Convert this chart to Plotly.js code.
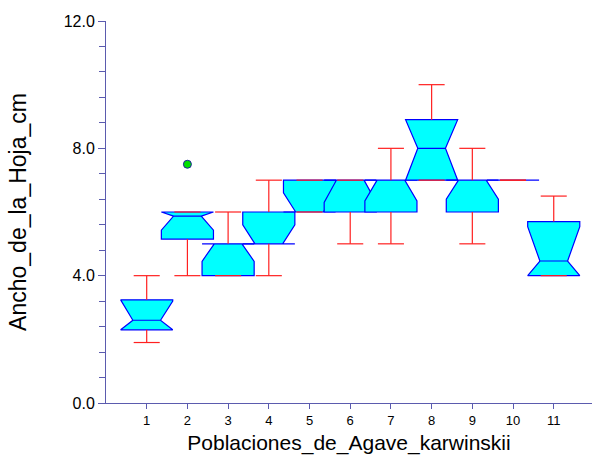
<!DOCTYPE html>
<html>
<head>
<meta charset="utf-8">
<script src="https://cdn.plot.ly/plotly-3.0.1.min.js"></script>
<style>html,body{margin:0;padding:0;background:#fff;}#chart{width:592px;height:459px;}</style>
</head>
<body>
<div id="chart"></div>
<script>
// Data (leaf width by population)
const populations = [1, 2, 3, 4, 5, 6, 7, 8, 9, 10, 11];
const lowerWhisker = [1.9, 4.0, 4.0, 4.0, 6.0, 5.0, 5.0, 7.0, 5.0, 7.0, 4.0];
const q1Values     = [2.3, 5.15, 4.0, 5.0, 6.0, 6.0, 6.0, 7.0, 6.0, 7.0, 4.0];
const medianValues = [2.6, 5.87, 5.0, 5.0, 6.0, 7.0, 7.0, 8.0, 7.0, 7.0, 4.46];
const q3Values     = [3.24, 6.0, 5.0, 6.0, 7.0, 7.0, 7.0, 8.9, 7.0, 7.0, 5.7];
const upperWhisker = [4.0, 6.0, 6.0, 7.0, 7.0, 7.0, 8.0, 10.0, 8.0, 7.0, 6.5];
const notchHalfSpan = [0.6, 0.44, 0.55, 0.6, 0.6, 0.7, 0.65, 1.0, 0.6, 0.0, 1.08];
const outlierPopulation = [2];
const outlierValues = [7.5];
const yTickValues = [0, 4, 8, 12];

// Style constants (widths in category units)
const BOX_HALF = 0.64;
const NOTCH_HALF = 0.34;
const CAP_HALF = 0.32;
const AXIS_COLOR = '#5B5BAE';
const FONT = 'Liberation Sans, Arial, sans-serif';

const traces = [];
populations.forEach((p, i) => {
  const a = q1Values[i], m = medianValues[i], b = q3Values[i], ns = notchHalfSpan[i];
  const lo = Math.max(a, m - ns), hi = Math.min(b, m + ns);
  traces.push({
    type: 'scatter', mode: 'lines', fill: 'toself',
    x: [p - NOTCH_HALF, p + NOTCH_HALF, p + BOX_HALF, p + BOX_HALF, p - BOX_HALF, p - BOX_HALF, p - NOTCH_HALF,
        p - BOX_HALF, p - BOX_HALF, p + BOX_HALF, p + BOX_HALF, p + NOTCH_HALF],
    y: [m, m, lo, a, a, lo, m, hi, b, b, hi, m],
    fillcolor: '#00FFFF',
    line: {color: '#0000FF', width: 1.2},
    hoverinfo: 'skip', showlegend: false
  });
});

// Whiskers drawn on top
const wx = [], wy = [];
populations.forEach((p, i) => {
  wx.push(p, p, null, p - CAP_HALF, p + CAP_HALF, null, p, p, null, p - CAP_HALF, p + CAP_HALF, null);
  wy.push(q3Values[i], upperWhisker[i], null, upperWhisker[i], upperWhisker[i], null,
          q1Values[i], lowerWhisker[i], null, lowerWhisker[i], lowerWhisker[i], null);
});
traces.push({
  type: 'scatter', mode: 'lines', x: wx, y: wy,
  line: {color: '#FF2020', width: 1.2}, connectgaps: false,
  hoverinfo: 'skip', showlegend: false
});

traces.push({
  type: 'scatter', mode: 'markers', x: outlierPopulation, y: outlierValues,
  marker: {color: '#00E000', size: 8, line: {color: '#2020A0', width: 1}},
  showlegend: false, cliponaxis: false
});

const layout = {
  width: 592, height: 459,
  margin: {l: 106, r: 0, t: 21, b: 56, pad: 0},
  paper_bgcolor: '#ffffff', plot_bgcolor: '#ffffff',
  font: {family: FONT, color: '#000000'},
  showlegend: false,
  xaxis: {
    range: [0, 11.94],
    tickvals: populations,
    ticktext: populations.map(String),
    ticks: 'outside', ticklen: 5, tickcolor: AXIS_COLOR, tickwidth: 1,
    showline: true, linecolor: AXIS_COLOR, linewidth: 1,
    showgrid: false, zeroline: false,
    tickfont: {size: 13, family: FONT, color: '#000'},
    title: {text: 'Poblaciones_de_Agave_karwinskii', font: {size: 21, family: FONT, color: '#000'}, standoff: 8}
  },
  yaxis: {
    range: [0, 12],
    tickvals: yTickValues,
    ticktext: yTickValues.map(v => v.toFixed(1)),
    ticks: 'outside', ticklen: 7, tickcolor: AXIS_COLOR, tickwidth: 1,
    minor: {dtick: 0.8, tick0: 0, ticks: 'outside', ticklen: 6, tickcolor: AXIS_COLOR, showgrid: false},
    showline: true, linecolor: AXIS_COLOR, linewidth: 1,
    showgrid: false, zeroline: false,
    tickfont: {size: 16, family: FONT, color: '#000'},
    title: {text: 'Ancho_de_la_Hoja_cm', font: {size: 23, family: FONT, color: '#000'}, standoff: 30}
  }
};

Plotly.newPlot('chart', traces, layout, {displayModeBar: false, staticPlot: true});
</script>
</body>
</html>
